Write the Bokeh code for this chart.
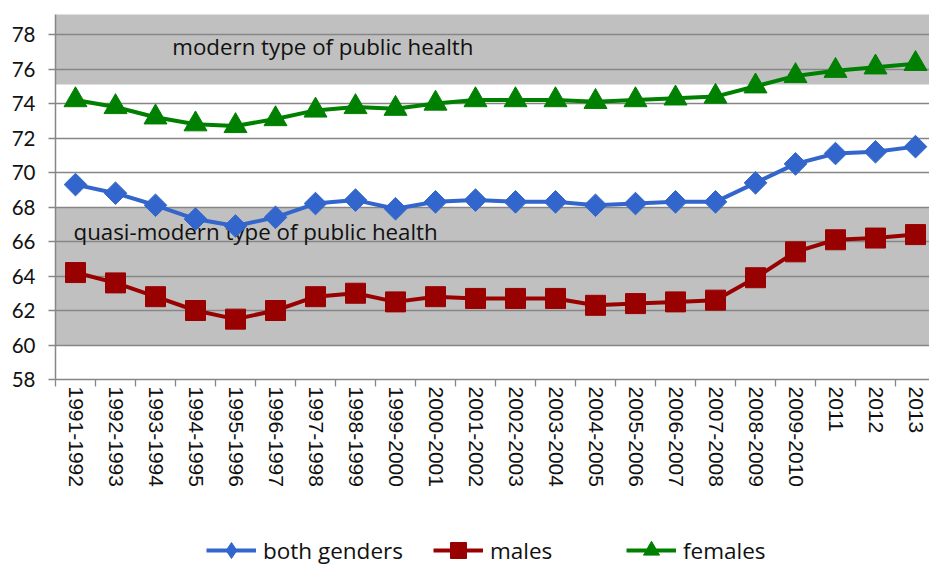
import math
from bokeh.plotting import figure
from bokeh.layouts import column
from bokeh.models import Range1d, FixedTicker, Legend, LegendItem
from bokeh.core.properties import value
from bokeh.embed import file_html
from bokeh.resources import INLINE

# ---- data ----
periods = ["1991-1992", "1992-1993", "1993-1994", "1994-1995", "1995-1996",
           "1996-1997", "1997-1998", "1998-1999", "1999-2000", "2000-2001",
           "2001-2002", "2002-2003", "2003-2004", "2004-2005", "2005-2006",
           "2006-2007", "2007-2008", "2008-2009", "2009-2010", "2011",
           "2012", "2013"]
both_genders = [69.3, 68.8, 68.1, 67.3, 66.9, 67.4, 68.2, 68.4, 67.9, 68.3,
                68.4, 68.3, 68.3, 68.1, 68.2, 68.3, 68.3, 69.4, 70.5, 71.1,
                71.2, 71.5]
males = [64.2, 63.6, 62.8, 62.0, 61.5, 62.0, 62.8, 63.0, 62.5, 62.8,
         62.7, 62.7, 62.7, 62.3, 62.4, 62.5, 62.6, 63.9, 65.4, 66.1,
         66.2, 66.4]
females = [74.2, 73.8, 73.2, 72.8, 72.7, 73.1, 73.6, 73.8, 73.7, 74.0,
           74.2, 74.2, 74.2, 74.1, 74.2, 74.3, 74.4, 75.0, 75.6, 75.9,
           76.1, 76.3]
series_names = ["both genders", "males", "females"]
y_ticks = [58, 60, 62, 64, 66, 68, 70, 72, 74, 76, 78]
band_bottom = [60, 75.1]
band_top = [68, 80]
band_labels = ["modern type of public health", "quasi-modern type of public health"]

# ---- layout constants ----
label_x = [2.92, 0.45]
label_y = [77.3, 66.6]

n = len(periods)
xs = [i + 0.5 for i in range(n)]

GRAY = "#868686"
FONT = "Open Sans"
BLUE, RED, GREEN = "#3366CC", "#990000", "#008000"

p = figure(width=929, height=530,
           x_range=Range1d(0, 21.85), y_range=Range1d(58, 79.16),
           output_backend="svg", toolbar_location=None,
           min_border_left=55, min_border_right=0,
           min_border_top=14, min_border_bottom=151)
p.outline_line_color = None
p.background_fill_color = "white"

# gray bands
p.quad(left=[0, 0], right=[n, n], bottom=band_bottom, top=band_top,
       fill_color="#C0C0C0", line_color=None, level="image")

# grid
p.xgrid.visible = False
p.ygrid.ticker = FixedTicker(ticks=y_ticks)
p.ygrid.grid_line_color = GRAY
p.ygrid.grid_line_width = 1.3

# x axis
p.xaxis.ticker = FixedTicker(ticks=xs, minor_ticks=list(range(n + 1)))
p.xaxis.major_label_overrides = {x: lab for x, lab in zip(xs, periods)}
p.xaxis.major_tick_line_color = None
p.xaxis.major_tick_out = 0
p.xaxis.major_tick_in = 0
p.xaxis.minor_tick_out = 7
p.xaxis.minor_tick_in = 0
p.xaxis.minor_tick_line_color = GRAY
p.xaxis.minor_tick_line_width = 1.3
p.xaxis.axis_line_color = GRAY
p.xaxis.axis_line_width = 1.5
p.xaxis.major_label_orientation = "vertical"
p.xaxis.major_label_text_font = "Liberation Sans"
p.xaxis.major_label_text_font_size = "21px"
p.xaxis.major_label_text_color = "#111111"
p.xaxis.major_label_standoff = 0

# y axis
p.yaxis.ticker = FixedTicker(ticks=y_ticks)
p.yaxis.major_tick_out = 7
p.yaxis.major_tick_in = 0
p.yaxis.major_tick_line_color = GRAY
p.yaxis.major_tick_line_width = 1.3
p.yaxis.minor_tick_line_color = None
p.yaxis.axis_line_color = GRAY
p.yaxis.axis_line_width = 1.5
p.yaxis.major_label_text_font = "Lato"
p.yaxis.major_label_text_font_size = "20.5px"
p.yaxis.major_label_text_color = "#111111"
p.yaxis.major_label_standoff = 13

# band labels (under the series)
p.text(x=label_x, y=label_y, text=band_labels, text_font=value(FONT),
       text_font_size="22.3px", text_baseline="middle", text_align="left",
       text_color="#111111")

series = [(both_genders, BLUE, dict(marker="square", angle=math.pi / 4, size=16)),
          (males, RED, dict(marker="square", size=20)),
          (females, GREEN, dict(marker="triangle", size=23))]
legend_markers = ["diamond", "square", "triangle"]

for vals, col, mk in series:
    p.line(xs, vals, line_color=col, line_width=4)
    p.scatter(xs, vals, fill_color=col, line_color=col, **mk)

# ---- legend strip (same series, drawn only as legend entries) ----
leg = figure(width=929, height=40, x_range=Range1d(0, 929), y_range=Range1d(0, 1),
             output_backend="svg", toolbar_location=None,
             min_border_left=0, min_border_right=0,
             min_border_top=0, min_border_bottom=0,
             x_axis_type=None, y_axis_type=None)
leg.outline_line_color = None
leg.xgrid.visible = False
leg.ygrid.visible = False

items = []
for name, (vals, col, mk), lm in zip(series_names, series, legend_markers):
    rl = leg.line(xs, vals, line_color=col, line_width=4)
    rs = leg.scatter(xs, vals, marker=lm, size=mk["size"],
                     fill_color=col, line_color=col)
    items.append(LegendItem(label=name, renderers=[rl, rs]))

legend = Legend(items=items, orientation="horizontal", location=(151, 0),
                glyph_width=50, glyph_height=40, label_standoff=7,
                spacing=30, label_width=106, padding=0, margin=0,
                border_line_color=None, background_fill_alpha=0,
                label_text_font=FONT, label_text_font_size="22.5px",
                label_text_color="#111111")
leg.add_layout(legend)

layout = column(p, leg, spacing=0)
open("out.html", "w").write(file_html(layout, INLINE))
